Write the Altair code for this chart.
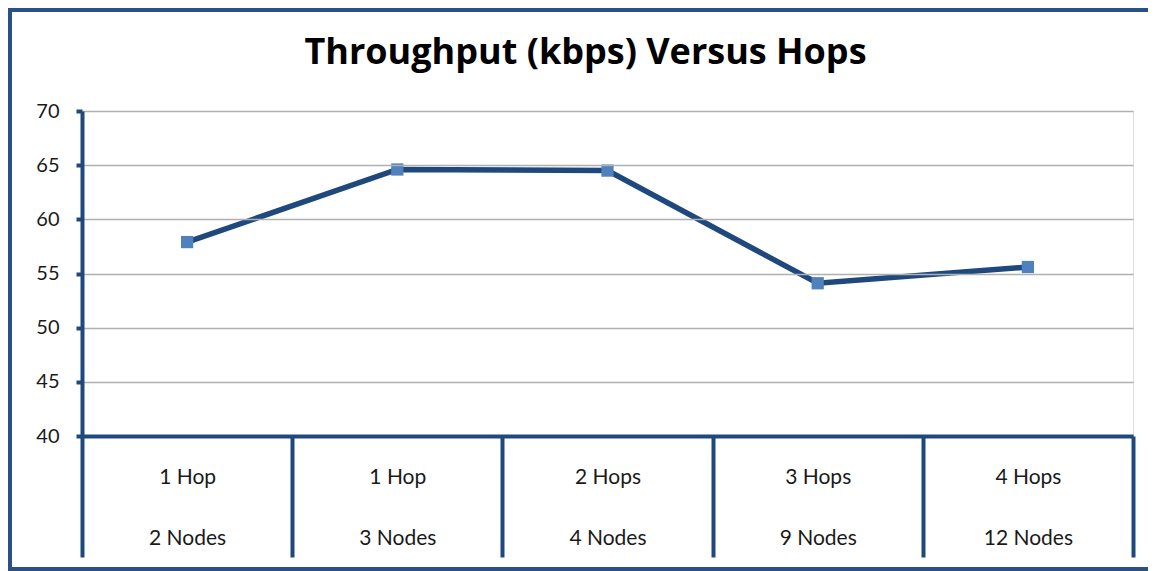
import altair as alt
import pandas as pd

hops = ["1 Hop", "1 Hop", "2 Hops", "3 Hops", "4 Hops"]
nodes = ["2 Nodes", "3 Nodes", "4 Nodes", "9 Nodes", "12 Nodes"]
throughput = [57.9, 64.6, 64.5, 54.1, 55.6]
y_ticks = [40, 45, 50, 55, 60, 65, 70]

df = pd.DataFrame({
    "key": [f"{h}|{n}" for h, n in zip(hops, nodes)],
    "throughput": throughput,
})

DARK = "#1f497d"
MARK = "#4f81bd"
FRAME = "#2a5185"
FONT = "Lato"

W, H = 1051, 325

x_enc = alt.X(
    "key:N",
    sort=None,
    scale=alt.Scale(type="band", paddingInner=0, paddingOuter=0),
    axis=alt.Axis(
        title=None,
        labelExpr="isValid(datum.value) ? split(datum.value, '|') : ''",
        labelAngle=0,
        labelAlign="center",
        labelBaseline="top",
        labelLineHeight=61,
        labelFontSize=21,
        labelFont=FONT,
        labelColor="#1a1a1a",
        labelPadding=-91,
        tickBand="extent",
        tickSize=121,
        tickWidth=4,
        tickColor=DARK,
        domainColor=DARK,
        domainWidth=4,
        grid=False,
        zindex=1,
    ),
)
y_enc = alt.Y(
    "throughput:Q",
    scale=alt.Scale(domain=[40, 70], nice=False, zero=False),
    axis=alt.Axis(
        title=None,
        values=y_ticks,
        tickSize=6,
        tickWidth=4,
        tickColor=DARK,
        domainColor=DARK,
        domainWidth=4,
        labelFontSize=20,
        labelFont=FONT,
        labelColor="#1a1a1a",
        labelPadding=17,
        gridColor="#b0b0b0",
        gridWidth=1.5,
        zindex=1,
    ),
)

base = alt.Chart(df)
line = base.mark_line(color=DARK, strokeWidth=5.5).encode(x=x_enc, y=y_enc)
pts = base.mark_point(shape="square", filled=True, color=MARK, size=150, opacity=1).encode(x=x_enc, y=y_enc)

one = pd.DataFrame({"f": [0]})
frame_top = alt.Chart(one).mark_rule(color=FRAME, strokeWidth=4).encode(
    x=alt.value(-74), x2=alt.value(1066), y=alt.value(-101)
)
frame_left = alt.Chart(one).mark_rule(color=FRAME, strokeWidth=4).encode(
    x=alt.value(-72), y=alt.value(-103), y2=alt.value(460)
)
frame_bottom = alt.Chart(one).mark_rule(color=FRAME, strokeWidth=4).encode(
    x=alt.value(-74), x2=alt.value(1066), y=alt.value(458)
)

chart = (
    alt.layer(line, pts, frame_top, frame_left, frame_bottom)
    .properties(
        width=W,
        height=H,
        padding={"left": 74, "top": 103, "right": 15, "bottom": 135},
        autosize=alt.AutoSizeParams(type="none"),
        title=alt.TitleParams(
            "Throughput (kbps) Versus Hops",
            font="Open Sans",
            fontSize=36,
            fontWeight="bold",
            color="#000000",
            anchor="middle",
            baseline="alphabetic",
            dx=-22,
            offset=-94,
        ),
    )
    .configure_view(strokeWidth=0)
    .configure(background="white")
)

chart.save("out.html", embed_options={"renderer": "svg", "actions": False})
